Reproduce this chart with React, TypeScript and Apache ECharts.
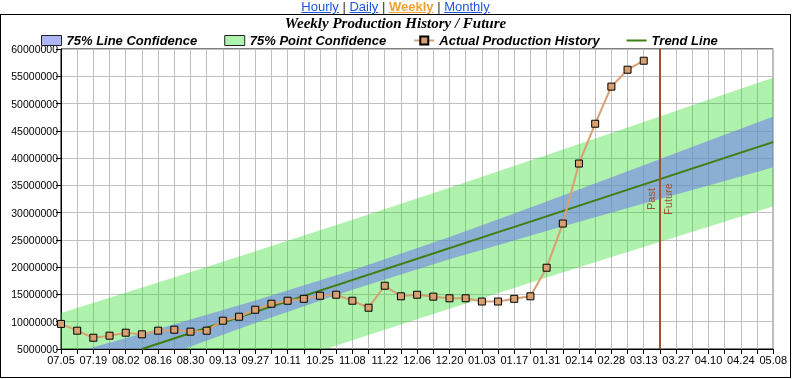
import React, { useEffect, useRef } from "react";
import * as echarts from "echarts";

const weeks = [
  "07.05", "07.12", "07.19", "07.26", "08.02", "08.09", "08.16", "08.23", "08.30",
  "09.06", "09.13", "09.20", "09.27", "10.04", "10.11", "10.18", "10.25", "11.01",
  "11.08", "11.15", "11.22", "11.29", "12.06", "12.13", "12.20", "12.27", "01.03",
  "01.10", "01.17", "01.24", "01.31", "02.07", "02.14", "02.21", "02.28", "03.06",
  "03.13", "03.20", "03.27", "04.03", "04.10", "04.17", "04.24", "05.01", "05.08",
];

const production = [
  9600000, 8360000, 7070000, 7440000, 7990000, 7690000, 8360000, 8540000, 8180000,
  8360000, 10190000, 10920000, 12200000, 13300000, 13850000, 14200000, 14770000,
  14950000, 13850000, 12570000, 16600000, 14660000, 14950000, 14600000, 14300000,
  14300000, 13700000, 13700000, 14200000, 14660000, 19900000, 28000000, 39000000,
  46300000, 53100000, 56200000, 57850000,
];

// trend line end points: [week index, value]
const trendPoints = [
  [5, 5000000],
  [44, 42950000],
];

// confidence bands read at these week indices
const bandIdx = [0, 6, 12, 18, 24, 30, 36, 40, 44];
const lineConfLow = [-3370000, 3290000, 9770000, 15860000, 21440000, 26640000, 31660000, 34960000, 38300000];
const lineConfHigh = [3650000, 8670000, 13870000, 19440000, 25540000, 32020000, 38680000, 43160000, 47600000];
const pointConfLow = [-11310000, -5250000, 730000, 6600000, 12400000, 18100000, 23720000, 27410000, 31150000];
const pointConfHigh = [11590000, 17210000, 22910000, 28700000, 34580000, 40560000, 46620000, 50710000, 54750000];

const splitWeek = "03.20";

const FONT = 'Arial, "Liberation Sans", sans-serif';
const GREEN_BAND = "rgba(24,218,24,0.35)";
const BLUE_BAND = "rgba(110,120,240,0.55)";
const PROD = "#D8A070";
const TREND = "#3F7F0F";
const SPLIT = "#A0522D";

function bandSeries(name: string, low: number[], high: number[], color: string, z: number) {
  return {
    name,
    type: "custom",
    z,
    clip: true,
    silent: true,
    itemStyle: { color },
    data: bandIdx.map((x, k) => [x, low[k], high[k]]),
    encode: { x: 0, y: [1, 2] },
    renderItem: (params: any, api: any) => {
      if (params.dataIndex !== 0) return null;
      const pts: number[][] = [];
      for (let k = 0; k < bandIdx.length; k++) pts.push(api.coord([bandIdx[k], low[k]]));
      for (let k = bandIdx.length - 1; k >= 0; k--) pts.push(api.coord([bandIdx[k], high[k]]));
      const cs = params.coordSys;
      return {
        type: "group",
        clipPath: { type: "rect", shape: { x: cs.x, y: cs.y, width: cs.width, height: cs.height } },
        children: [{ type: "polygon", shape: { points: pts }, style: { fill: color } }],
      };
    },
  };
}

export default function App() {
  const ref = useRef<HTMLDivElement>(null);
  useEffect(() => {
    if (!ref.current) return;
    const chart = echarts.init(ref.current, null, { renderer: "svg" });
    chart.setOption({
      animation: false,
      title: {
        text: "Weekly Production History / Future",
        left: "center",
        top: 0,
        padding: 0,
        textStyle: {
          fontFamily: '"Times New Roman", "Liberation Serif", serif',
          fontStyle: "italic",
          fontWeight: "bold",
          fontSize: 15,
          lineHeight: 16,
          color: "#000",
        },
      },
      legend: {
        left: 40,
        top: 19,
        padding: 0,
        itemWidth: 20,
        itemHeight: 10,
        itemGap: 27,
        textStyle: { fontFamily: FONT, fontStyle: "italic", fontWeight: "bold", fontSize: 13, color: "#000" },
        data: [
          { name: "75% Line Confidence", icon: "rect", itemStyle: { color: BLUE_BAND, borderColor: "#222", borderWidth: 1 } },
          { name: "75% Point Confidence", icon: "rect", itemStyle: { color: GREEN_BAND, borderColor: "#222", borderWidth: 1 } },
          { name: "Actual Production History" },
          { name: "Trend Line", icon: "path://M0,0 L20,0 L20,2 L0,2 Z", itemStyle: { color: TREND } },
        ],
      },
      grid: {
        left: 60,
        right: 14,
        top: 34,
        bottom: 28,
        show: true,
        borderColor: "#000",
        borderWidth: 1,
      },
      xAxis: {
        type: "category",
        data: weeks,
        boundaryGap: false,
        axisLine: { show: true, lineStyle: { color: "#000", width: 1 } },
        axisTick: { show: true, interval: 0, length: 5, lineStyle: { color: "#000" } },
        axisLabel: { interval: 1, margin: 5, fontFamily: FONT, fontSize: 11, color: "#000" },
        splitLine: { show: true, interval: 0, lineStyle: { color: "#C0C0C0", width: 1 } },
      },
      yAxis: {
        type: "value",
        min: 5000000,
        max: 60000000,
        interval: 5000000,
        axisLine: { show: true, lineStyle: { color: "#000", width: 1 } },
        axisTick: { show: true, length: 5, lineStyle: { color: "#000" } },
        axisLabel: { margin: 3, fontFamily: FONT, fontSize: 10.5, color: "#000", formatter: (v: number) => String(v) },
        splitLine: { show: true, lineStyle: { color: "#C0C0C0", width: 1 } },
      },
      series: [
        bandSeries("75% Point Confidence", pointConfLow, pointConfHigh, GREEN_BAND, 1),
        bandSeries("75% Line Confidence", lineConfLow, lineConfHigh, BLUE_BAND, 1),
        {
          name: "Trend Line",
          type: "line",
          z: 3,
          data: trendPoints,
          symbol: "none",
          lineStyle: { color: TREND, width: 2 },
          itemStyle: { color: TREND },
        },
        {
          name: "Actual Production History",
          type: "line",
          z: 4,
          data: production,
          symbol: "rect",
          symbolSize: 7,
          lineStyle: { color: PROD, width: 2 },
          itemStyle: { color: PROD, borderColor: "#000", borderWidth: 1 },
          markLine: {
            silent: true,
            symbol: "none",
            lineStyle: { color: SPLIT, width: 2, type: "solid" },
            data: [
              {
                xAxis: splitWeek,
                label: { formatter: "Past", position: "insideMiddleTop", distance: 3, color: SPLIT, fontFamily: FONT, fontSize: 11 },
              },
              {
                xAxis: splitWeek,
                label: { formatter: "Future", position: "insideMiddleBottom", distance: 3, color: SPLIT, fontFamily: FONT, fontSize: 11 },
              },
            ],
          },
        },
      ],
    });
    return () => chart.dispose();
  }, []);

  const link: React.CSSProperties = { color: "#1F55E0", textDecoration: "underline" };
  const sep: React.CSSProperties = { color: "#333" };
  return (
    <div style={{ position: "fixed", left: 0, top: 0, width: 792, height: 379, background: "#fff", fontFamily: FONT }}>
      <div style={{ position: "absolute", left: 0, top: 0, width: 791, height: 14, textAlign: "center", fontSize: 13, lineHeight: "14px" }}>
        <span style={link}>Hourly</span>
        <span style={sep}> | </span>
        <span style={link}>Daily</span>
        <span style={sep}> | </span>
        <span style={{ ...link, color: "#F0A030", fontWeight: "bold" }}>Weekly</span>
        <span style={sep}> | </span>
        <span style={link}>Monthly</span>
      </div>
      <div style={{ position: "absolute", left: 0, top: 14, width: 789, height: 362, border: "1px solid #000" }}>
        <div ref={ref} style={{ width: 789, height: 362 }} />
      </div>
    </div>
  );
}
